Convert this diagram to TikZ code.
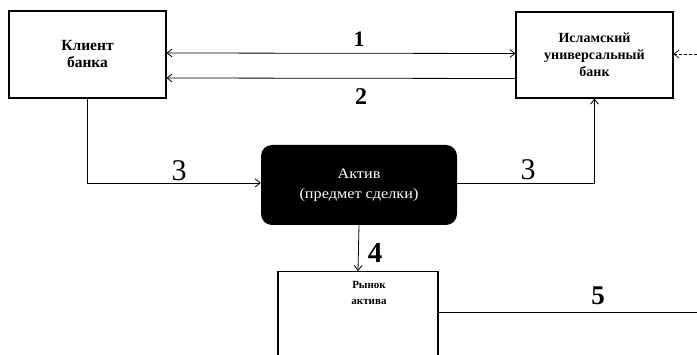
\documentclass[tikz,border=0pt]{standalone}
\usepackage{fontspec}
\setmainfont{Liberation Serif}
\newfontfamily\widefont[FakeStretch=1.12]{Liberation Serif}
\usetikzlibrary{arrows.meta}
\begin{document}
\begin{tikzpicture}[x=1pt,y=-1pt,
  box/.style={draw, line width=1.1pt, inner sep=0pt, align=center,
    font=\fontsize{14}{17}\selectfont\bfseries},
  darkbox/.style={fill=black, rounded corners=11pt, inner sep=0pt, align=center,
    text=white, font=\widefont\fontsize{14.5}{20}\selectfont},
  lbl/.style={inner sep=0pt, align=center, font=\fontsize{11}{16}\selectfont\bfseries},
  num/.style={inner sep=0pt, anchor=base},
  conn/.style={line width=0.8pt},
  arr/.style={conn, -{Straight Barb[length=5pt,width=8pt]}},
  birr/.style={conn, {Straight Barb[length=5pt,width=8pt]}-{Straight Barb[length=5pt,width=8pt]}}
]
\useasboundingbox (0,0) rectangle (697,355);
\clip (0,0) rectangle (697,355);

\node[box, minimum width=157pt, minimum height=87pt, font=\fontsize{15.5}{17}\selectfont\bfseries] (client) at (87.5,54.5) {Клиент\\банка};
\node[box, minimum width=157pt, minimum height=86pt] (bank) at (594.5,55) {Исламский\\универсальный\\банк};
\node[darkbox, minimum width=196pt, minimum height=80pt] (aktiv) at (359,185) {Актив\\(предмет сделки)};
\node[box, minimum width=160pt, minimum height=100pt, anchor=north] (rynok) at (358,271) {};
\node[lbl] (rynoktext) at (369,293) {Рынок\\актива};

\coordinate (ext) at (697,54);
\coordinate (out5) at (697,312);

\draw[birr] ([yshift=1.5pt]client.east) -- ([yshift=1.5pt]bank.west);
\draw[arr] ([yshift=-23.5pt]bank.west) -- ([yshift=-23.5pt]client.east);
\draw[arr, densely dashed, line width=0.6pt] (ext) -- (bank.east |- ext);
\draw[arr] (client.south) |- ([yshift=2pt]aktiv.west);
\draw[arr] ([yshift=2pt]aktiv.east) -| (bank.south);
\draw[arr] (aktiv.south) -- (rynok.north);
\draw[conn] (rynok.east |- out5) -- (out5);

\node[num, font=\fontsize{22}{22}\selectfont\bfseries] (n1) at (359,47) {1};
\node[num, font=\fontsize{24}{24}\selectfont\bfseries] (n2) at (361,105) {2};
\node[num, font=\fontsize{30}{30}\selectfont] (n3a) at (179,181) {3};
\node[num, font=\fontsize{30}{30}\selectfont] (n3b) at (528,180) {3};
\node[num, font=\fontsize{29}{29}\selectfont\bfseries] (n4) at (375,263) {4};
\node[num, font=\fontsize{27}{27}\selectfont\bfseries] (n5) at (598,305) {5};
\end{tikzpicture}
\end{document}
